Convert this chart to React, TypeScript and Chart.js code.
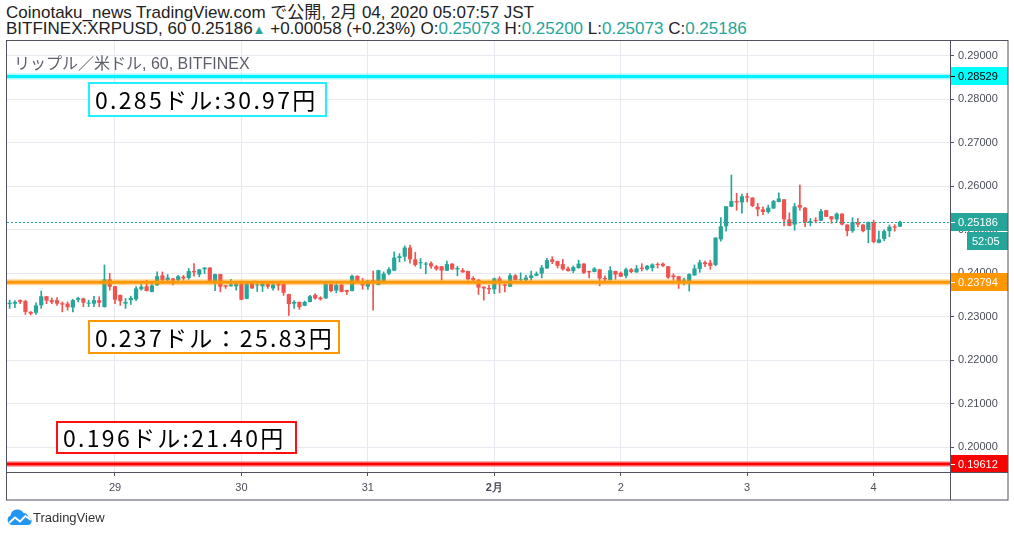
import React, { useEffect, useRef } from 'react';
import { Chart, registerables } from 'chart.js';

Chart.register(...registerables);

// ---- data (hourly candles, BITFINEX:XRPUSD 60) ----
const opens = [
  0.2329, 0.2330, 0.2338, 0.2336, 0.2311, 0.2309, 0.2326, 0.2347, 0.2338, 0.2338,
  0.2331, 0.2330, 0.2321, 0.2339, 0.2342, 0.2330, 0.2330, 0.2338, 0.2322, 0.2386,
  0.2370, 0.2350, 0.2330, 0.2338, 0.2340, 0.2363, 0.2370, 0.2357, 0.2372, 0.2395,
  0.2384, 0.2388, 0.2384, 0.2392, 0.2389, 0.2405, 0.2397, 0.2409, 0.2413, 0.2382,
  0.2398, 0.2372, 0.2370, 0.2370, 0.2376, 0.2341, 0.2378, 0.2372, 0.2370, 0.2376,
  0.2365, 0.2376, 0.2376, 0.2352, 0.2330, 0.2334, 0.2325, 0.2334, 0.2350, 0.2344,
  0.2342, 0.2375, 0.2360, 0.2374, 0.2361, 0.2359, 0.2394, 0.2376, 0.2369, 0.2384,
  0.2373, 0.2382, 0.2399, 0.2406, 0.2435, 0.2438, 0.2459, 0.2432, 0.2423, 0.2420,
  0.2423, 0.2416, 0.2416, 0.2406, 0.2422, 0.2409, 0.2407, 0.2405, 0.2389, 0.2384,
  0.2369, 0.2366, 0.2363, 0.2388, 0.2374, 0.2369, 0.2395, 0.2384, 0.2384, 0.2389,
  0.2394, 0.2399, 0.2411, 0.2432, 0.2428, 0.2421, 0.2411, 0.2405, 0.2412, 0.2422,
  0.2405, 0.2403, 0.2409, 0.2389, 0.2384, 0.2405, 0.2401, 0.2394, 0.2409, 0.2402,
  0.2413, 0.2409, 0.2412, 0.2421, 0.2422, 0.2416, 0.2395, 0.2393, 0.2383, 0.2382,
  0.2395, 0.2410, 0.2425, 0.2424, 0.2419, 0.2478, 0.2508, 0.2553, 0.2566, 0.2563,
  0.2577, 0.2574, 0.2553, 0.2547, 0.2541, 0.2549, 0.2564, 0.2570, 0.2524, 0.2512,
  0.2557, 0.2551, 0.2516, 0.2522, 0.2521, 0.2545, 0.2531, 0.2524, 0.2537, 0.2512,
  0.2497, 0.2516, 0.2512, 0.2500, 0.2517, 0.2470, 0.2479, 0.2497, 0.2508, 0.25073,
];
const highs = [
  0.2338, 0.2337, 0.2339, 0.2338, 0.2312, 0.2332, 0.2359, 0.2347, 0.2343, 0.2344,
  0.2334, 0.2334, 0.2340, 0.2345, 0.2343, 0.2338, 0.2347, 0.2346, 0.2419, 0.2400,
  0.2370, 0.2350, 0.2342, 0.2347, 0.2369, 0.2374, 0.2384, 0.2378, 0.2403, 0.2403,
  0.2397, 0.2388, 0.2395, 0.2395, 0.2411, 0.2422, 0.2409, 0.2413, 0.2413, 0.2398,
  0.2398, 0.2372, 0.2386, 0.2378, 0.2378, 0.2377, 0.2378, 0.2380, 0.2378, 0.2378,
  0.2376, 0.2380, 0.2376, 0.2352, 0.2337, 0.2334, 0.2336, 0.2349, 0.2353, 0.2346,
  0.2375, 0.2375, 0.2376, 0.2374, 0.2361, 0.2396, 0.2394, 0.2388, 0.2383, 0.2405,
  0.2407, 0.2403, 0.2413, 0.2449, 0.2445, 0.2463, 0.2465, 0.2448, 0.2434, 0.2425,
  0.2426, 0.2418, 0.2416, 0.2428, 0.2422, 0.2416, 0.2411, 0.2405, 0.2392, 0.2386,
  0.2369, 0.2372, 0.2389, 0.2392, 0.2375, 0.2399, 0.2397, 0.2401, 0.2395, 0.2405,
  0.2403, 0.2418, 0.2434, 0.2438, 0.2428, 0.2432, 0.2415, 0.2417, 0.2430, 0.2422,
  0.2405, 0.2413, 0.2409, 0.2394, 0.2415, 0.2405, 0.2403, 0.2412, 0.2411, 0.2418,
  0.2422, 0.2418, 0.2422, 0.2424, 0.2424, 0.2416, 0.2399, 0.2393, 0.2389, 0.2399,
  0.2419, 0.2430, 0.2428, 0.2430, 0.2482, 0.2528, 0.2554, 0.2626, 0.2584, 0.2582,
  0.2584, 0.2574, 0.2561, 0.2553, 0.2557, 0.2568, 0.2585, 0.2570, 0.2539, 0.2561,
  0.2603, 0.2551, 0.2526, 0.2528, 0.2547, 0.2545, 0.2531, 0.2539, 0.2537, 0.2512,
  0.2528, 0.2526, 0.2512, 0.2518, 0.2522, 0.2497, 0.2500, 0.2511, 0.2512, 0.25200,
];
const lows = [
  0.2319, 0.2321, 0.2330, 0.2305, 0.2304, 0.2305, 0.2319, 0.2330, 0.2330, 0.2326,
  0.2311, 0.2315, 0.2311, 0.2334, 0.2323, 0.2323, 0.2323, 0.2323, 0.2322, 0.2361,
  0.2330, 0.2326, 0.2319, 0.2328, 0.2337, 0.2361, 0.2359, 0.2357, 0.2372, 0.2376,
  0.2382, 0.2373, 0.2382, 0.2384, 0.2386, 0.2393, 0.2392, 0.2399, 0.2380, 0.2360,
  0.2357, 0.2365, 0.2370, 0.2361, 0.2339, 0.2341, 0.2365, 0.2358, 0.2358, 0.2365,
  0.2361, 0.2361, 0.2349, 0.2303, 0.2319, 0.2317, 0.2325, 0.2334, 0.2340, 0.2338,
  0.2342, 0.2357, 0.2355, 0.2357, 0.2351, 0.2359, 0.2380, 0.2363, 0.2363, 0.2315,
  0.2373, 0.2382, 0.2396, 0.2406, 0.2426, 0.2428, 0.2423, 0.2416, 0.2411, 0.2399,
  0.2411, 0.2407, 0.2384, 0.2406, 0.2409, 0.2394, 0.2402, 0.2384, 0.2380, 0.2351,
  0.2338, 0.2353, 0.2353, 0.2355, 0.2357, 0.2369, 0.2384, 0.2383, 0.2380, 0.2384,
  0.2394, 0.2389, 0.2411, 0.2422, 0.2412, 0.2407, 0.2405, 0.2401, 0.2411, 0.2399,
  0.2389, 0.2403, 0.2371, 0.2382, 0.2384, 0.2386, 0.2392, 0.2389, 0.2401, 0.2402,
  0.2405, 0.2407, 0.2405, 0.2412, 0.2415, 0.2388, 0.2384, 0.2365, 0.2373, 0.2359,
  0.2395, 0.2402, 0.2415, 0.2409, 0.2417, 0.2474, 0.2497, 0.2553, 0.2545, 0.2538,
  0.2564, 0.2553, 0.2532, 0.2535, 0.2538, 0.2549, 0.2564, 0.2509, 0.2509, 0.2499,
  0.2545, 0.2507, 0.2509, 0.2516, 0.2521, 0.2530, 0.2515, 0.2518, 0.2511, 0.2486,
  0.2494, 0.2507, 0.2495, 0.2470, 0.2470, 0.2470, 0.2475, 0.2484, 0.2497, 0.25073,
];
const closes = [
  0.2332, 0.2334, 0.2334, 0.2311, 0.2307, 0.2326, 0.2347, 0.2337, 0.2333, 0.2330,
  0.2328, 0.2322, 0.2338, 0.2343, 0.2332, 0.2332, 0.2338, 0.2332, 0.2386, 0.2369,
  0.2339, 0.2336, 0.2334, 0.2343, 0.2365, 0.2369, 0.2359, 0.2372, 0.2393, 0.2384,
  0.2390, 0.2383, 0.2393, 0.2388, 0.2405, 0.2402, 0.2409, 0.2413, 0.2380, 0.2398,
  0.2369, 0.2369, 0.2374, 0.2376, 0.2339, 0.2376, 0.2365, 0.2374, 0.2376, 0.2369,
  0.2374, 0.2372, 0.2355, 0.2329, 0.2334, 0.2322, 0.2334, 0.2347, 0.2342, 0.2340,
  0.2375, 0.2359, 0.2373, 0.2357, 0.2357, 0.2394, 0.2380, 0.2372, 0.2383, 0.2380,
  0.2407, 0.2399, 0.2409, 0.2436, 0.2439, 0.2459, 0.2432, 0.2419, 0.2425, 0.2422,
  0.2416, 0.2409, 0.2406, 0.2421, 0.2409, 0.2412, 0.2402, 0.2386, 0.2384, 0.2367,
  0.2365, 0.2363, 0.2388, 0.2380, 0.2371, 0.2395, 0.2384, 0.2386, 0.2390, 0.2395,
  0.2399, 0.2413, 0.2430, 0.2426, 0.2417, 0.2409, 0.2405, 0.2414, 0.2422, 0.2401,
  0.2402, 0.2411, 0.2388, 0.2386, 0.2407, 0.2397, 0.2392, 0.2409, 0.2403, 0.2411,
  0.2410, 0.2417, 0.2420, 0.2419, 0.2417, 0.2390, 0.2391, 0.2382, 0.2385, 0.2398,
  0.2411, 0.2425, 0.2421, 0.2417, 0.2482, 0.2508, 0.2554, 0.2566, 0.2563, 0.2577,
  0.2574, 0.2555, 0.2547, 0.2541, 0.2551, 0.2566, 0.2572, 0.2524, 0.2509, 0.2554,
  0.2551, 0.2517, 0.2520, 0.2520, 0.2543, 0.2530, 0.2524, 0.2537, 0.2512, 0.2497,
  0.2518, 0.2512, 0.2497, 0.2518, 0.2472, 0.2478, 0.2497, 0.2507, 0.2505, 0.25186,
];

// time axis: first candle Jan 28 04:00 JST, 9 empty slots on the right
const firstCandle = { month: 1, day: 28, hour: 4 };
const slotCount = 179;
const dayTickLabels: Record<string, string> = {
  '01-29': '29', '01-30': '30', '01-31': '31', '02-01': '2月', '02-02': '2', '02-03': '3', '02-04': '4',
};
const yTicks = [0.20, 0.21, 0.22, 0.23, 0.24, 0.25, 0.26, 0.27, 0.28, 0.29];
const yMin = 0.19425;
const yMax = 0.29368;

const levelLines = [
  { value: 0.28529, color: '#00f0ff', halo: 'rgba(0,240,255,0.35)', text: '#000000', boxBg: '#00ffff' },
  { value: 0.23794, color: '#ff9800', halo: 'rgba(255,152,0,0.40)', text: '#ffffff', boxBg: '#ff9800' },
  { value: 0.19612, color: '#ff0000', halo: 'rgba(255,0,0,0.30)', text: '#ffffff', boxBg: '#ff0000' },
];
const lastPrice = 0.25186;
const countdown = '52:05';

const annotations = [
  { text: '0.285ドル:30.97円', color: '#22f0ff', x: 88, y: 82, w: 239, h: 35 },
  { text: '0.237ドル：25.83円', color: '#ff9800', x: 88, y: 320, w: 252, h: 34 },
  { text: '0.196ドル:21.40円', color: '#ff1010', x: 56, y: 421, w: 241, h: 33 },
];

const UP = '#26a69a';
const DOWN = '#ef5350';
const GRID = '#e6e9ef';
const FRAME = '#50535e';
const AXIS_TEXT = '#4a4e59';
const AXIS_FONT = '"Liberation Sans", Arial, sans-serif';

function buildCategories(): string[] {
  const monthDays: Record<number, number> = { 1: 31, 2: 29 };
  const out: string[] = [];
  let { month, day, hour } = firstCandle;
  for (let i = 0; i < slotCount; i++) {
    out.push(`${String(month).padStart(2, '0')}-${String(day).padStart(2, '0')} ${String(hour).padStart(2, '0')}`);
    hour++;
    if (hour === 24) {
      hour = 0;
      day++;
      if (day > monthDays[month]) { day = 1; month++; }
    }
  }
  return out;
}

const categories = buildCategories();

function dayLabelFor(i: number): string {
  const c = categories[i];
  if (!c || !c.endsWith(' 00')) return '';
  return dayTickLabels[c.slice(0, 5)] || '';
}

const overlayPlugin = {
  id: 'tvOverlay',
  afterDatasetsDraw(chart: any) {
    const { ctx, chartArea } = chart;
    const y = chart.scales.y;
    ctx.save();
    ctx.beginPath();
    ctx.rect(chartArea.left, chartArea.top, chartArea.right - chartArea.left, chartArea.bottom - chartArea.top);
    ctx.clip();
    // last price dotted line
    const py = Math.round(y.getPixelForValue(lastPrice)) + 0.5;
    ctx.strokeStyle = UP;
    ctx.lineWidth = 1;
    ctx.setLineDash([2, 2]);
    ctx.beginPath();
    ctx.moveTo(chartArea.left, py);
    ctx.lineTo(chartArea.right, py);
    ctx.stroke();
    ctx.setLineDash([]);
    // horizontal levels
    for (const l of levelLines) {
      const ly = y.getPixelForValue(l.value);
      ctx.strokeStyle = l.halo;
      ctx.lineWidth = 6;
      ctx.beginPath();
      ctx.moveTo(chartArea.left, ly);
      ctx.lineTo(chartArea.right, ly);
      ctx.stroke();
      ctx.strokeStyle = l.color;
      ctx.lineWidth = 3;
      ctx.beginPath();
      ctx.moveTo(chartArea.left, ly);
      ctx.lineTo(chartArea.right, ly);
      ctx.stroke();
    }
    ctx.restore();
  },
  afterDraw(chart: any) {
    const { ctx, chartArea } = chart;
    const y = chart.scales.y;
    const right = 1008;
    const bottom = 500;
    ctx.save();

    // inner title
    ctx.fillStyle = '#5d606b';
    ctx.font = '16px "Liberation Sans", "Noto Sans CJK JP", sans-serif';
    ctx.textBaseline = 'alphabetic';
    ctx.textAlign = 'left';
    ctx.fillText('リップル／米ドル, 60, BITFINEX', 14, 69);

    // annotation boxes
    for (const a of annotations) {
      ctx.fillStyle = '#ffffff';
      ctx.fillRect(a.x, a.y, a.w, a.h);
      ctx.strokeStyle = a.color;
      ctx.lineWidth = 2;
      ctx.strokeRect(a.x + 1, a.y + 1, a.w - 2, a.h - 2);
      ctx.fillStyle = '#000000';
      ctx.font = '23px "Noto Sans CJK JP", sans-serif';
      (ctx as any).letterSpacing = '2.3px';
      ctx.textBaseline = 'middle';
      ctx.fillText(a.text, a.x + 7, a.y + a.h / 2 + 1);
      (ctx as any).letterSpacing = '0px';
    }

    // price boxes on the axis
    const box = (value: number, bg: string, fg: string, label?: string) => {
      const cy = Math.round(y.getPixelForValue(value));
      ctx.fillStyle = bg;
      ctx.fillRect(chartArea.right + 1, cy - 9, right - chartArea.right - 1, 18);
      ctx.strokeStyle = fg;
      ctx.lineWidth = 1;
      ctx.beginPath();
      ctx.moveTo(chartArea.right + 1, cy + 0.5);
      ctx.lineTo(chartArea.right + 5, cy + 0.5);
      ctx.stroke();
      ctx.fillStyle = fg;
      ctx.font = `11px ${AXIS_FONT}`;
      ctx.textBaseline = 'middle';
      ctx.textAlign = 'left';
      ctx.fillText(label || value.toFixed(5), chartArea.right + 8, cy + 1);
      return cy;
    };
    for (const l of levelLines) box(l.value, l.boxBg, l.text);
    const cy = box(lastPrice, UP, '#ffffff');
    ctx.fillStyle = UP;
    ctx.fillRect(967, cy + 10, right - 967, 18);
    ctx.fillStyle = '#ffffff';
    ctx.font = `11px ${AXIS_FONT}`;
    ctx.fillText(countdown, 972, cy + 19.5);

    // frame
    ctx.strokeStyle = FRAME;
    ctx.lineWidth = 1;
    ctx.strokeRect(6.5, chartArea.top + 0.5, right - 6.5, bottom - chartArea.top - 0.5);
    ctx.beginPath();
    ctx.moveTo(Math.round(chartArea.right) + 0.5, chartArea.top);
    ctx.lineTo(Math.round(chartArea.right) + 0.5, bottom);
    ctx.moveTo(6, Math.round(chartArea.bottom) + 0.5);
    ctx.lineTo(right, Math.round(chartArea.bottom) + 0.5);
    ctx.stroke();
    ctx.restore();
  },
};

export default function App() {
  const canvasRef = useRef<HTMLCanvasElement | null>(null);

  useEffect(() => {
    if (!canvasRef.current) return;
    const candleColors = closes.map((c, i) => (c >= opens[i] ? UP : DOWN));
    const chart = new Chart(canvasRef.current, {
      type: 'bar',
      data: {
        labels: categories,
        datasets: [
          {
            label: 'wick',
            data: highs.map((h, i) => [lows[i], h]) as any,
            backgroundColor: candleColors,
            barThickness: 1,
            grouped: false,
            order: 2,
          } as any,
          {
            label: 'body',
            data: opens.map((o, i) => [o, closes[i]]) as any,
            backgroundColor: candleColors,
            barPercentage: 0.8,
            categoryPercentage: 1,
            minBarLength: 1,
            grouped: false,
            order: 1,
          } as any,
        ],
      },
      options: {
        responsive: false,
        animation: false,
        devicePixelRatio: 1,
        layout: { padding: { left: 7, top: 40, right: 6, bottom: 37 } },
        plugins: {
          legend: { display: false },
          tooltip: { enabled: false },
        },
        scales: {
          x: {
            type: 'category',
            offset: true,
            grid: {
              offset: false,
              color: (c: any) => (dayLabelFor(c.index) ? GRID : 'rgba(0,0,0,0)'),
              tickColor: (c: any) => (dayLabelFor(c.index) ? FRAME : 'rgba(0,0,0,0)'),
              tickLength: 4,
            },
            border: { color: FRAME },
            ticks: {
              autoSkip: false,
              maxRotation: 0,
              minRotation: 0,
              padding: 5,
              color: AXIS_TEXT,
              font: (c: any) => ({
                size: 11,
                family: AXIS_FONT,
                weight: dayLabelFor(c.index) === '2月' ? 'bold' : 'normal',
              }),
              callback: (_v: any, i: number) => dayLabelFor(i),
            },
            afterFit: (s: any) => { s.height = 28; },
          },
          y: {
            position: 'right',
            min: yMin,
            max: yMax,
            afterBuildTicks: (s: any) => { s.ticks = yTicks.map((v) => ({ value: v })); },
            grid: { color: GRID, tickColor: FRAME, tickLength: 4 },
            border: { color: FRAME },
            ticks: {
              padding: 4,
              color: AXIS_TEXT,
              font: { size: 11, family: AXIS_FONT },
              callback: (v: any) => Number(v).toFixed(5),
            },
            afterFit: (s: any) => { s.width = 58; },
          },
        },
      } as any,
      plugins: [overlayPlugin],
    });
    return () => chart.destroy();
  }, []);

  const teal = '#26a69a';
  const headFont = '17px/18px "Liberation Sans", "Noto Sans CJK JP", sans-serif';
  return (
    <div style={{ position: 'absolute', left: 0, top: 0, width: 1014, height: 537, background: '#fff', overflow: 'hidden' }}>
      <div style={{ position: 'absolute', left: 6, top: 4, font: headFont, color: '#222', whiteSpace: 'nowrap' }}>
        Coinotaku_news TradingView.com で公開, 2月 04, 2020 05:07:57 JST
      </div>
      <div style={{ position: 'absolute', left: 6, top: 20, font: headFont, color: '#222', whiteSpace: 'nowrap' }}>
        BITFINEX:XRPUSD, 60 0.25186<span style={{ color: teal, fontSize: 13 }}>▲</span> +0.00058 (+0.23%) O:<span style={{ color: teal }}>0.25073</span> H:<span style={{ color: teal }}>0.25200</span> L:<span style={{ color: teal }}>0.25073</span> C:<span style={{ color: teal }}>0.25186</span>
      </div>
      <canvas ref={canvasRef} width={1014} height={537} style={{ position: 'absolute', left: 0, top: 0, width: 1014, height: 537 }} />
      <svg style={{ position: 'absolute', left: 6, top: 508 }} width="27" height="18" viewBox="0 0 27 18">
        <path d="M6 17 A5 5 0 0 1 4.5 7.5 A7 7 0 0 1 17.5 5 A5.5 5.5 0 0 1 22.5 9.2 A4 4 0 0 1 22.5 17 Z" fill="#2196f3" />
        <polyline points="3,15 9,9.5 14,13.5 19.5,8 25,12" stroke="#ffffff" strokeWidth="1.8" fill="none" />
      </svg>
      <div style={{ position: 'absolute', left: 33, top: 510, font: '13px/16px "Liberation Sans", Arial, sans-serif', color: '#333' }}>TradingView</div>
    </div>
  );
}
